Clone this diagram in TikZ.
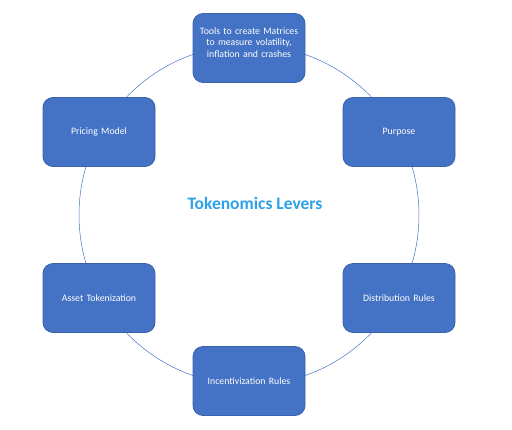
\documentclass[tikz,border=0pt]{standalone}
\usepackage{fontspec}
\setmainfont{Carlito}
\definecolor{boxfill}{HTML}{4472C4}
\definecolor{boxline}{HTML}{3A62AC}
\definecolor{titleblue}{HTML}{2EA0E8}
\begin{document}
\begin{tikzpicture}[x=1pt,y=-1pt,
  lever/.style={draw=boxline,line width=0.8pt,fill=boxfill,rounded corners=10pt,
    minimum width=112pt,minimum height=69pt,text width=108pt,align=center,
    text=white,font=\fontsize{9.8}{11.5}\selectfont,inner sep=2pt},
  ring/.style={draw=boxfill,line width=0.5pt}]
\useasboundingbox (0,0) rectangle (512,429);
\coordinate (c) at (249,215);
\draw[ring] (c) circle[radius=170];
\node[lever] (tools) at (249,48) {Tools to create Matrices\\to measure volatility,\\inflation and crashes\par\vspace{11pt}};
\node[lever] (purpose) at (399,132) {Purpose};
\node[lever] (dist) at (399,298) {Distribution Rules};
\node[lever] (incent) at (249,381) {Incentivization Rules};
\node[lever] (asset) at (99,298) {Asset Tokenization};
\node[lever] (pricing) at (99,132) {Pricing Model};
\node[text=titleblue,font=\fontsize{17.5}{20}\selectfont\bfseries] (title) at (255,203) {Tokenomics Levers};
\end{tikzpicture}
\end{document}
